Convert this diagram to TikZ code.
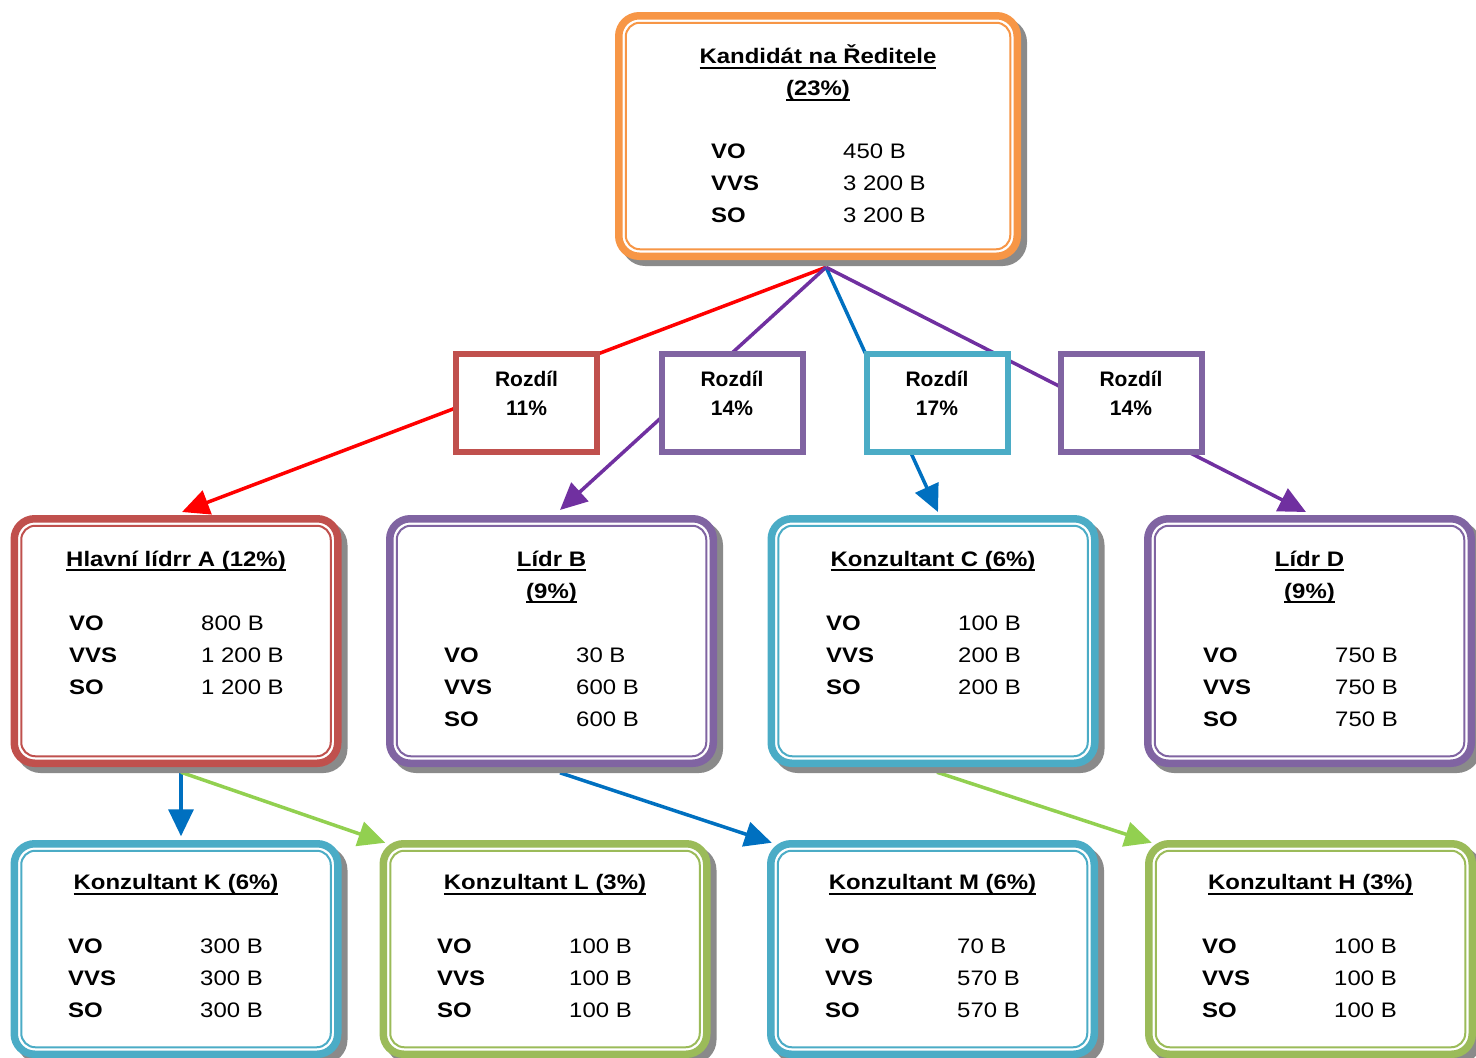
\documentclass[tikz,border=0pt]{standalone}
\usepackage{fontspec}
\setmainfont{Liberation Sans}[FakeStretch=1.14]
\newfontfamily\rzfont{Liberation Sans}
\usetikzlibrary{arrows.meta,calc}
\pgfdeclarelayer{bg}
\pgfsetlayers{bg,main}
\definecolor{cOrange}{HTML}{F79646}
\definecolor{cRed}{HTML}{C0504D}
\definecolor{cPurple}{HTML}{8064A2}
\definecolor{cCyan}{HTML}{4BACC6}
\definecolor{cGreen}{HTML}{9BBB59}
\definecolor{lRed}{HTML}{FF0000}
\definecolor{lPurple}{HTML}{7030A0}
\definecolor{lBlue}{HTML}{0070C0}
\definecolor{lGreen}{HTML}{92D050}
\definecolor{shadowgray}{HTML}{8A8A8A}
\newcommand\myul[1]{\setbox0\hbox{#1}\rlap{\rule[-5pt]{\wd0}{2.2pt}}\box0}
\newcommand\drow[2]{\strut\makebox[132pt][l]{\bfseries #1}#2}
\newcommand\pbox[6]{%
  \node[frame=#2, minimum width=#5pt, minimum height=#6pt] (#1) at (#3,#4) {};
  \draw[color=#2, line width=2pt, rounded corners=14pt]
    ($(#1.north west)+(7,7)$) rectangle ($(#1.south east)+(-7,-7)$);}
\tikzset{
  frame/.style={rectangle, rounded corners=20.5pt, draw=#1, line width=7.5pt,
    fill=white, inner sep=0pt, outer sep=0pt,
    preaction={draw=shadowgray, fill=shadowgray, line width=7.5pt,
      transform canvas={shift={(6pt,-6pt)}}}},
  diffbox/.style={rectangle, draw=#1, line width=6pt, fill=white,
    inner sep=0pt, outer sep=0pt, minimum width=141pt, minimum height=98pt},
  difftext/.style={anchor=north, inner sep=0pt, align=center,
    font=\rzfont\bfseries\fontsize{21}{29}\selectfont},
  title/.style={anchor=north, inner sep=0pt, align=center,
    font=\bfseries\fontsize{21}{32}\selectfont},
  data/.style={anchor=north west, inner sep=0pt, align=left,
    font=\fontsize{21}{32}\selectfont},
  conn/.style={draw=#1, line width=3.5pt,
    -{Triangle[length=27pt,width=25pt]}}
}
\begin{document}
\begin{tikzpicture}[x=1pt,y=-1pt]
\useasboundingbox (0,0) rectangle (1476,1058);

% ---- person boxes
\pbox{T}{cOrange}{818}{136}{398.5}{240.5}
\pbox{A}{cRed}{176}{641}{323.5}{244.5}
\pbox{B}{cPurple}{551.5}{641}{323.5}{244.5}
\pbox{C}{cCyan}{933}{641}{323.5}{244.5}
\pbox{D}{cPurple}{1309.5}{641}{323.5}{244.5}
\pbox{K}{cCyan}{176}{949}{323.5}{210.5}
\pbox{L}{cGreen}{545}{949}{323.5}{210.5}
\pbox{M}{cCyan}{932.5}{949}{323.5}{210.5}
\pbox{H}{cGreen}{1310.5}{949}{323.5}{210.5}

% ---- titles
\node[title] (Tt) at (818,41.1) {\strut\myul{Kandidát na Ředitele}\\\strut\myul{(23\%)}};
\node[title] (At) at (176,543.6) {\strut\myul{Hlavní lídrr A (12\%)}};
\node[title] (Bt) at (551.5,543.6) {\strut\myul{Lídr B}\\\strut\myul{(9\%)}};
\node[title] (Ct) at (933,543.6) {\strut\myul{Konzultant C (6\%)}};
\node[title] (Dt) at (1309.5,543.6) {\strut\myul{Lídr D}\\\strut\myul{(9\%)}};
\node[title] (Kt) at (176,867.1) {\strut\myul{Konzultant K (6\%)}};
\node[title] (Lt) at (545,867.1) {\strut\myul{Konzultant L (3\%)}};
\node[title] (Mt) at (932.5,867.1) {\strut\myul{Konzultant M (6\%)}};
\node[title] (Ht) at (1310.5,867.1) {\strut\myul{Konzultant H (3\%)}};

% ---- data
\node[data] (Td) at (711,135.6) {\drow{VO}{450 B}\\\drow{VVS}{3 200 B}\\\drow{SO}{3 200 B}};
\node[data] (Ad) at (69,607.6) {\drow{VO}{800 B}\\\drow{VVS}{1 200 B}\\\drow{SO}{1 200 B}};
\node[data] (Bd) at (444,639.6) {\drow{VO}{30 B}\\\drow{VVS}{600 B}\\\drow{SO}{600 B}};
\node[data] (Cd) at (826,607.6) {\drow{VO}{100 B}\\\drow{VVS}{200 B}\\\drow{SO}{200 B}};
\node[data] (Dd) at (1203,639.6) {\drow{VO}{750 B}\\\drow{VVS}{750 B}\\\drow{SO}{750 B}};
\node[data] (Kd) at (68,930.6) {\drow{VO}{300 B}\\\drow{VVS}{300 B}\\\drow{SO}{300 B}};
\node[data] (Ld) at (437,930.6) {\drow{VO}{100 B}\\\drow{VVS}{100 B}\\\drow{SO}{100 B}};
\node[data] (Md) at (825,930.6) {\drow{VO}{70 B}\\\drow{VVS}{570 B}\\\drow{SO}{570 B}};
\node[data] (Hd) at (1202,930.6) {\drow{VO}{100 B}\\\drow{VVS}{100 B}\\\drow{SO}{100 B}};

% ---- connection points
\coordinate (fan) at ($(T.south)+(8,11)$);
\coordinate (As) at ($(A.south)+(5,9)$);
\coordinate (Bs) at ($(B.south)+(8.5,9.5)$);
\coordinate (Cs) at ($(C.south)+(4,9)$);

% ---- connectors (behind boxes)
\begin{pgfonlayer}{bg}
\draw[conn=lRed] (fan) -- ($(A.north)+(6,-6.75)$);
\draw[conn=lPurple] (fan) -- ($(B.north)+(8.5,-8.75)$);
\draw[conn=lBlue] (fan) -- ($(C.north)+(5,-6.75)$);
\draw[conn=lPurple] (fan) -- ($(D.north)+(-3.5,-6.75)$);
\draw[conn=lBlue] (As) -- ($(K.north)+(5,-7.5)$);
\draw[conn=lGreen] (As) -- ($(L.north west)+(2,-1)$);
\draw[conn=lBlue] (Bs) -- ($(M.north west)+(1,-1)$);
\draw[conn=lGreen] (Cs) -- ($(H.north west)+(3,-1)$);
\end{pgfonlayer}

% ---- difference boxes
\node[diffbox=cRed] (R1) at (526.5,403) {};
\node[diffbox=cPurple] (R2) at (732,403) {};
\node[diffbox=cCyan] (R3) at (937,403) {};
\node[diffbox=cPurple] (R4) at (1131,403) {};
\node[difftext] (R1t) at (526.5,365.7) {\strut Rozdíl\\\strut 11\%};
\node[difftext] (R2t) at (732,365.7) {\strut Rozdíl\\\strut 14\%};
\node[difftext] (R3t) at (937,365.7) {\strut Rozdíl\\\strut 17\%};
\node[difftext] (R4t) at (1131,365.7) {\strut Rozdíl\\\strut 14\%};
\end{tikzpicture}
\end{document}
